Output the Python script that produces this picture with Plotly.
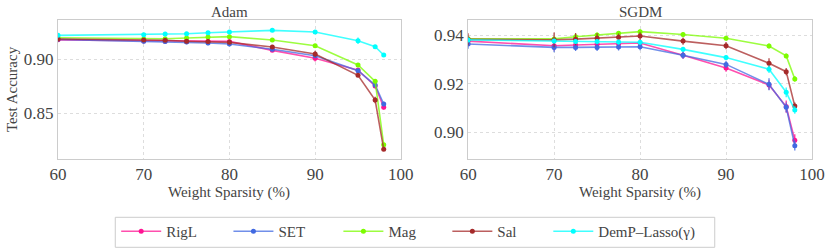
import plotly.graph_objects as go

sparsity = [60, 70, 72.5, 75, 77.5, 80, 85, 90, 95, 97, 98]
methods = ["RigL", "SET", "Mag", "Sal", "DemP–Lasso(γ)"]
colors = ["#ff1493", "#4169e1", "#7cfc00", "#a52a2a", "#00ffff"]

adam_rigl = [0.9180, 0.9170, 0.9168, 0.9165, 0.9165, 0.9166, 0.9083, 0.9010, 0.8900, 0.8753, 0.8556]
adam_set = [0.9185, 0.9167, 0.9165, 0.9160, 0.9151, 0.9142, 0.9093, 0.9033, 0.8894, 0.8762, 0.8586]
adam_mag = [0.9200, 0.9188, 0.9191, 0.9197, 0.9206, 0.9210, 0.9179, 0.9126, 0.8947, 0.8796, 0.8209]
adam_sal = [0.9188, 0.9179, 0.9176, 0.9167, 0.9164, 0.9157, 0.9114, 0.9049, 0.8852, 0.8623, 0.8167]
adam_demp = [0.9222, 0.9228, 0.9234, 0.9237, 0.9246, 0.9253, 0.9268, 0.9253, 0.9172, 0.9117, 0.9040]

adam_rigl_err = [0.0015, 0.0015, 0.0015, 0.0015, 0.0015, 0.0015, 0.0015, 0.003, 0.0015, 0.002, 0.002]
adam_set_err = [0.001, 0.002, 0.002, 0.002, 0.002, 0.002, 0.0015, 0.0015, 0.0015, 0.0015, 0.002]
adam_mag_err = [0.0008, 0.0008, 0.0008, 0.0008, 0.0008, 0.0008, 0.001, 0.001, 0.001, 0.001, 0.001]
adam_sal_err = [0.001, 0.0015, 0.0015, 0.0015, 0.0015, 0.0015, 0.0015, 0.003, 0.0015, 0.003, 0.0015]
adam_demp_err = [0.001, 0.001, 0.001, 0.001, 0.001, 0.001, 0.001, 0.001, 0.003, 0.0015, 0.0015]

sgdm_rigl = [0.9376, 0.9357, 0.9360, 0.9363, 0.9365, 0.9368, 0.9318, 0.9265, 0.9195, 0.9106, 0.8967]
sgdm_set = [0.9364, 0.9350, 0.9350, 0.9350, 0.9352, 0.9353, 0.9318, 0.9280, 0.9198, 0.9103, 0.8945]
sgdm_mag = [0.9386, 0.9385, 0.9394, 0.9401, 0.9408, 0.9415, 0.9403, 0.9388, 0.9356, 0.9315, 0.9220]
sgdm_sal = [0.9383, 0.9381, 0.9384, 0.9388, 0.9392, 0.9397, 0.9376, 0.9357, 0.9285, 0.9250, 0.9108]
sgdm_demp = [0.9381, 0.9376, 0.9374, 0.9374, 0.9372, 0.9371, 0.9342, 0.9308, 0.9260, 0.9165, 0.9092]

sgdm_rigl_err = [0.001, 0.002, 0.0015, 0.0015, 0.0015, 0.0015, 0.0015, 0.0015, 0.002, 0.0025, 0.0025]
sgdm_set_err = [0.002, 0.002, 0.0015, 0.0015, 0.0015, 0.0015, 0.0015, 0.0015, 0.0025, 0.002, 0.002]
sgdm_mag_err = [0.0005, 0.0005, 0.001, 0.001, 0.001, 0.001, 0.001, 0.001, 0.001, 0.001, 0.0012]
sgdm_sal_err = [0.0025, 0.003, 0.0025, 0.002, 0.0015, 0.0015, 0.0015, 0.0015, 0.002, 0.0015, 0.0015]
sgdm_demp_err = [0.001, 0.001, 0.001, 0.001, 0.001, 0.001, 0.001, 0.001, 0.0015, 0.002, 0.0015]

adam_vals = [adam_rigl, adam_set, adam_mag, adam_sal, adam_demp]
adam_errs = [adam_rigl_err, adam_set_err, adam_mag_err, adam_sal_err, adam_demp_err]
sgdm_vals = [sgdm_rigl, sgdm_set, sgdm_mag, sgdm_sal, sgdm_demp]
sgdm_errs = [sgdm_rigl_err, sgdm_set_err, sgdm_mag_err, sgdm_sal_err, sgdm_demp_err]

FONT = "Liberation Serif"
TXT = "#444444"
W, H = 830, 252
ML, MR, MT, MB = 58, W - 812.3, 20, H - 159
PW, PH = W - ML - MR, H - MT - MB


def rgba(hexc, a):
    h = hexc.lstrip("#")
    r, g, b = int(h[0:2], 16), int(h[2:4], 16), int(h[4:6], 16)
    return f"rgba({r},{g},{b},{a})"


def px_x(p):
    return (p - ML) / PW


def px_y(p):
    return (H - MB - p) / PH


legend_ids = ["legend", "legend2", "legend3", "legend4", "legend5"]
legend_left_px = [116.2, 228.5, 338.5, 447.5, 548.5]

fig = go.Figure()
for panel, (vals, errs) in enumerate([(adam_vals, adam_errs), (sgdm_vals, sgdm_errs)]):
    xa = "x" if panel == 0 else "x2"
    ya = "y" if panel == 0 else "y2"
    for i, (name, c, v, e) in enumerate(zip(methods, colors, vals, errs)):
        fig.add_trace(go.Scatter(
            x=sparsity, y=v, name=name, xaxis=xa, yaxis=ya,
            mode="lines+markers",
            line=dict(color=rgba(c, 0.75), width=1.6),
            marker=dict(color=c, size=5),
            error_y=dict(type="data", array=e, visible=True, width=0,
                         thickness=1.3, color=rgba(c, 0.85)),
            showlegend=(panel == 0), legendgroup=name, legend=legend_ids[i],
        ))

axis_common = dict(
    showline=True, linecolor="#cccccc", linewidth=1, mirror=True,
    showgrid=True, gridcolor="#dddddd", griddash="dot", gridwidth=1,
    zeroline=False, ticks="", automargin=False,
    tickfont=dict(family=FONT, size=17, color=TXT),
)

legend_layouts = {}
for lid, lx in zip(legend_ids, legend_left_px):
    legend_layouts[lid] = dict(
        orientation="h", x=px_x(lx), xanchor="left", y=px_y(215), yanchor="top",
        borderwidth=0, bgcolor="rgba(0,0,0,0)",
        font=dict(family=FONT, size=15, color=TXT), itemwidth=40,
    )

fig.update_layout(
    width=W, height=H,
    margin=dict(l=ML, r=MR, t=MT, b=MB, autoexpand=False),
    plot_bgcolor="white", paper_bgcolor="white",
    font=dict(family=FONT, color=TXT),
    xaxis=dict(domain=[0, px_x(401)], range=[60, 100], tickvals=[60, 70, 80, 90, 100],
               anchor="y", **axis_common),
    yaxis=dict(domain=[0, 1], range=[0.8077, 0.9364], tickvals=[0.85, 0.90],
               tickformat=".2f", anchor="x", **axis_common),
    xaxis2=dict(domain=[px_x(468.3), 1], range=[60, 100], tickvals=[60, 70, 80, 90, 100],
                anchor="y2", **axis_common),
    yaxis2=dict(domain=[0, 1], range=[0.889, 0.9463], tickvals=[0.90, 0.92, 0.94],
                tickformat=".2f", anchor="x2", **axis_common),
    shapes=[
        dict(type="rect", xref="paper", yref="paper",
             x0=px_x(115.3), x1=px_x(715), y0=px_y(247.3), y1=px_y(217.3),
             line=dict(color="#cccccc", width=1), fillcolor="rgba(0,0,0,0)", layer="below"),
    ],
    annotations=[
        dict(text="Adam", x=px_x((58 + 401) / 2), y=px_y(12), xref="paper", yref="paper",
             xanchor="center", yanchor="middle",
             showarrow=False, font=dict(family=FONT, size=15, color=TXT)),
        dict(text="SGDM", x=px_x((468.3 + 812.3) / 2), y=px_y(12), xref="paper", yref="paper",
             xanchor="center", yanchor="middle",
             showarrow=False, font=dict(family=FONT, size=15, color=TXT)),
        dict(text="Weight Sparsity (%)", x=px_x((58 + 401) / 2), y=px_y(192), xref="paper", yref="paper",
             xanchor="center", yanchor="middle",
             showarrow=False, font=dict(family=FONT, size=15, color=TXT)),
        dict(text="Weight Sparsity (%)", x=px_x((468.3 + 812.3) / 2), y=px_y(192), xref="paper", yref="paper",
             xanchor="center", yanchor="middle",
             showarrow=False, font=dict(family=FONT, size=15, color=TXT)),
        dict(text="Test Accuracy", x=px_x(12), y=px_y(89), xref="paper", yref="paper",
             xanchor="center", yanchor="middle",
             showarrow=False, textangle=-90, font=dict(family=FONT, size=15, color=TXT)),
    ],
    **legend_layouts,
)

fig.write_html("out.html", post_script="document.body.style.margin='0';",
               config={"displayModeBar": False})
